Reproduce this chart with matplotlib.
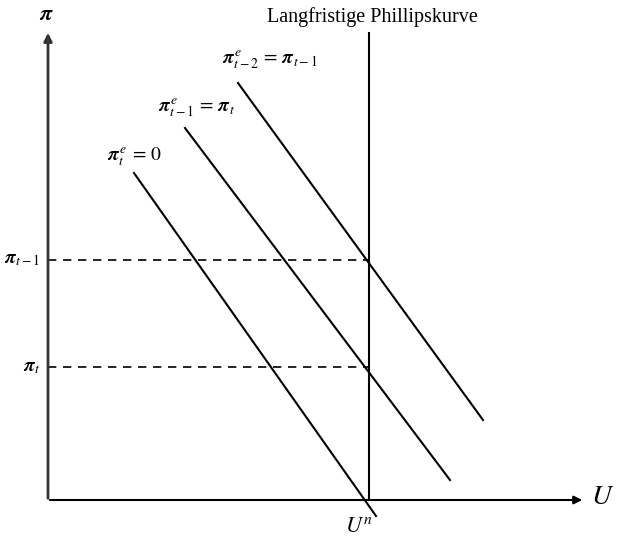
import matplotlib
matplotlib.use("Agg")
import matplotlib.pyplot as plt

plt.rcParams['mathtext.fontset'] = 'stix'
plt.rcParams['font.family'] = ['Liberation Serif', 'DejaVu Serif']

# schematic coordinates (pixel-like units, y grows downward)
origin = (48, 500)
x_end = 585
y_top = 30
u_n = 369
pi_levels = [260, 367]
pi_labels = [r'$\boldsymbol{\pi}_{t-1}$', r'$\boldsymbol{\pi}_{t}$']

# short-run Phillips curves: start and end points
curve_x = [[134, 376], [185, 450], [238, 483]]
curve_y = [[173, 516], [128, 480], [83, 420]]
curve_labels = [r'$\boldsymbol{\pi}_t^{\,e}\,=\,0$',
                r'$\boldsymbol{\pi}_{t-1}^{\,e}\,=\,\boldsymbol{\pi}_t$',
                r'$\boldsymbol{\pi}_{t-2}^{\,e}\,=\,\boldsymbol{\pi}_{t-1}$']
label_pos = [(107, 157), (158, 108), (222, 60)]

fig = plt.figure(figsize=(6.2, 5.45), dpi=100)
ax = fig.add_axes([0, 0, 1, 1])
ax.set_xlim(0, 620)
ax.set_ylim(545, 0)
ax.set_axis_off()

# axes with arrows
ax.annotate('', xy=(x_end, origin[1]), xytext=(origin[0] - 1, origin[1]),
            arrowprops=dict(arrowstyle='-|>', color='black', lw=1.5, mutation_scale=12))
ax.annotate('', xy=(origin[0], y_top), xytext=(origin[0], origin[1] + 1),
            arrowprops=dict(arrowstyle='-|>', color='#333333', lw=2, mutation_scale=12))

# long-run Phillips curve
ax.plot([u_n, u_n], [33, origin[1]], color='black', lw=1.5)

for lev, lab in zip(pi_levels, pi_labels):
    ax.plot([origin[0], u_n], [lev, lev], color='black', lw=1.2, ls=(0, (5, 4)))
    ax.text(40, lev, lab, ha='right', va='center', fontsize=14)

for xs, ys, lab, pos in zip(curve_x, curve_y, curve_labels, label_pos):
    ax.plot(xs, ys, color='black', lw=1.5)
    ax.text(pos[0], pos[1], lab, ha='left', va='center', fontsize=14)

ax.text(46, 15, r'$\boldsymbol{\pi}$', ha='center', va='center', fontsize=16)
ax.text(372, 17, 'Langfristige Phillipskurve', ha='center', va='center', fontsize=14.5)
ax.text(603, 497, r'$U$', ha='center', va='center', fontsize=20)
ax.text(359, 528, r'$U^{n}$', ha='center', va='center', fontsize=16)

fig.savefig('out.png', dpi=100)
